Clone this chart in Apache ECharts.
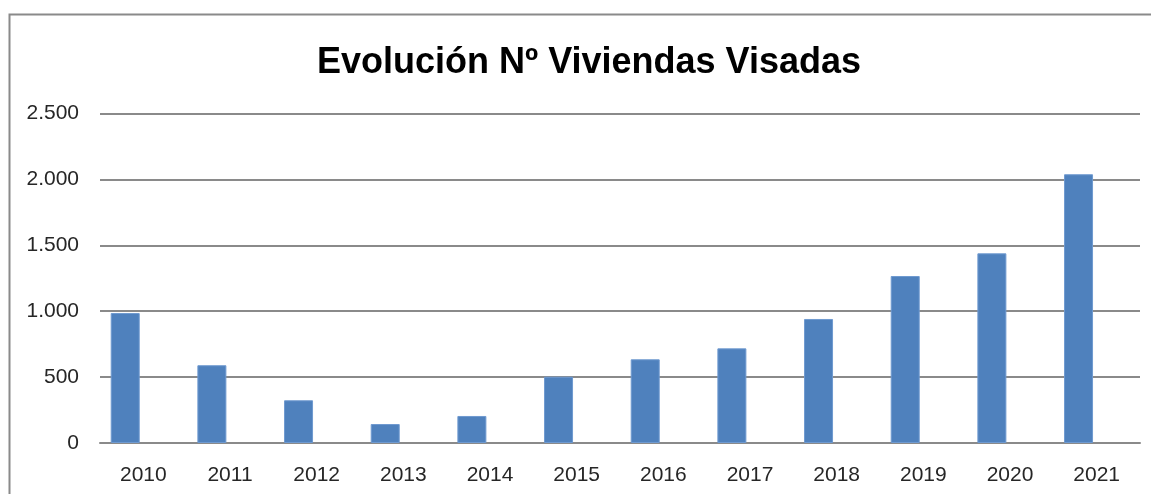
<!DOCTYPE html>
<html>
<head>
<meta charset="utf-8">
<script src="https://cdn.jsdelivr.net/npm/echarts@6/dist/echarts.min.js"></script>
<style>
html,body{margin:0;padding:0;background:#fff;}
#chart{width:1151px;height:494px;}
</style>
</head>
<body>
<div id="chart"></div>
<script>
const titleText = 'Evolución Nº Viviendas Visadas';
const categories = ['2010','2011','2012','2013','2014','2015','2016','2017','2018','2019','2020','2021'];
const viviendas = [986, 590, 324, 144, 205, 503, 635, 718, 941, 1267, 1439, 2039];
const emptySeries = [null, null, null, null, null, null, null, null, null, null, null, null];

const chart = echarts.init(document.getElementById('chart'), null, {renderer:'canvas'});
const fmt = v => String(v).replace(/\B(?=(\d{3})+(?!\d))/g, '.');
chart.setOption({
  backgroundColor:'#ffffff',
  animation:false,
  title:{
    text:titleText,
    left:584, top:40, textAlign:'center',
    textStyle:{fontFamily:'Liberation Sans', fontWeight:'bold', fontSize:36, color:'#000'}
  },
  graphic:[{
    type:'polyline',
    shape:{points:[[9.5,494],[9.5,14.5],[1151,14.5]]},
    style:{stroke:'#8a8a8a', lineWidth:2, fill:null}
  }],
  grid:{left:100, right:11, top:113.5, bottom:51, containLabel:false},
  xAxis:{
    type:'category', data:categories,
    axisLine:{show:true, lineStyle:{color:'#8a8a8a', width:2}},
    axisTick:{show:false},
    axisLabel:{fontFamily:'Liberation Sans', fontSize:21, color:'#262626', margin:22}
  },
  yAxis:{
    type:'value', min:0, max:2500, interval:500,
    axisLine:{show:false}, axisTick:{show:false},
    splitLine:{lineStyle:{color:'#8a8a8a', width:2}},
    axisLabel:{fontFamily:'Liberation Sans', fontSize:21, color:'#262626', margin:21, formatter:fmt}
  },
  series:[
    {type:'bar', data:viviendas, barWidth:29, barGap:'25%',
     itemStyle:{color:'#4f81bd', borderColor:'#6f9ad0', borderWidth:1}},
    {type:'bar', data:emptySeries, barWidth:29}
  ]
});
</script>
</body>
</html>
